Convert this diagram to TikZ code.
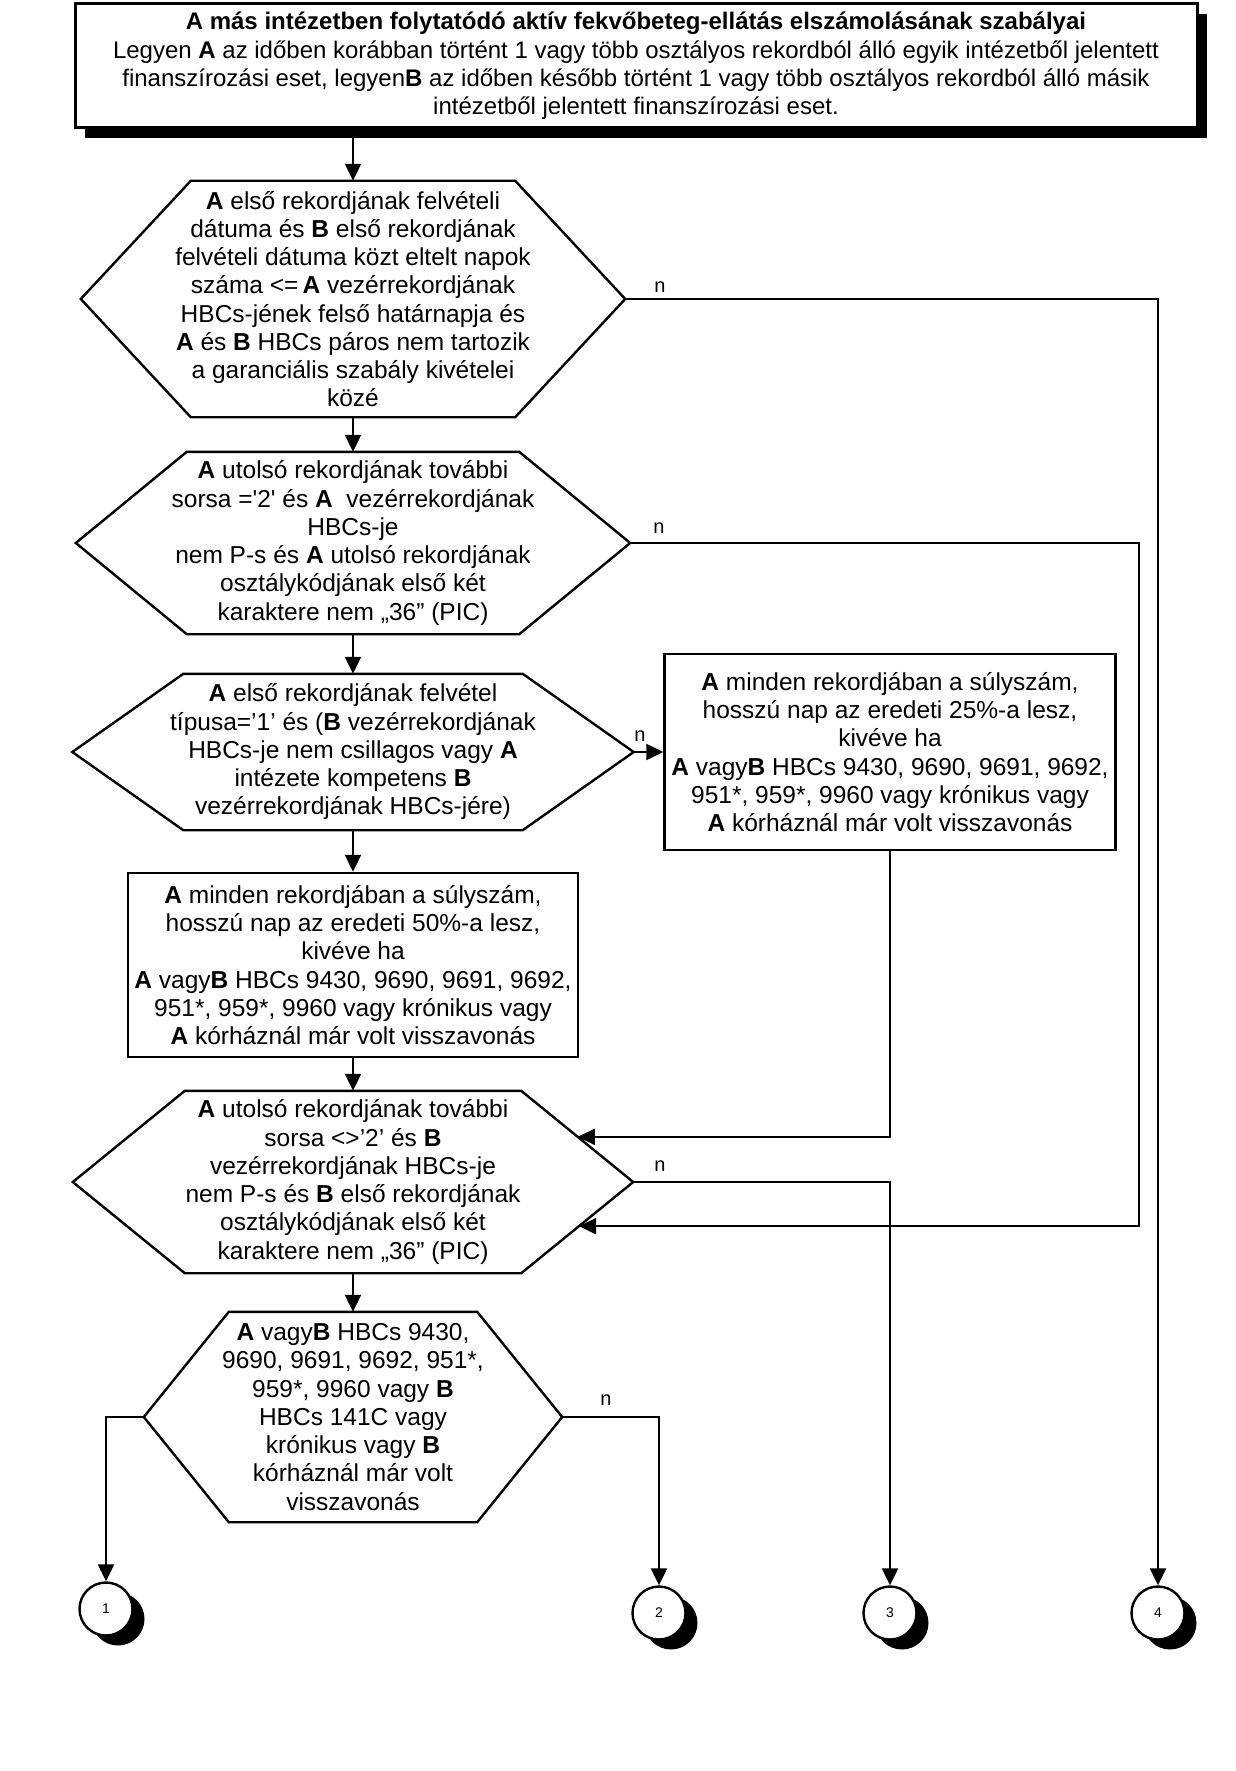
\documentclass[tikz,border=0pt]{standalone}
\usepackage{fontspec}
\setmainfont{Liberation Sans}
\usetikzlibrary{arrows.meta,calc,shadows}
\newcommand\hexdraw[2]{\draw[shapeline] (#1.west) -- ([xshift=#2pt]#1.north west) -- ([xshift=-#2pt]#1.north east) -- (#1.east) -- ([xshift=-#2pt]#1.south east) -- ([xshift=#2pt]#1.south west) -- cycle;}
\begin{document}
\begin{tikzpicture}[x=1pt,y=-1pt,
  txt/.style={font=\fontsize{24.5}{28.25}\selectfont, align=center, inner sep=0pt},
  shapeline/.style={line width=2.4pt, line join=miter},
  boxnode/.style={txt, draw, line width=2.4pt, fill=white},
  conn/.style={line width=2.2pt},
  arr/.style={conn, -{Triangle[length=17pt,width=16pt]}},
  lbl/.style={font=\fontsize{20}{24}\selectfont, inner sep=0pt},
  circ/.style={circle, draw, line width=2.4pt, fill=white, minimum size=53pt, inner sep=0pt,
    font=\fontsize{14}{16}\selectfont,
    drop shadow={opacity=1, fill=black, shadow xshift=12pt, shadow yshift=-10pt}}
]
\fill[white] (0,0) rectangle (1235,1771);
\useasboundingbox (0,0) rectangle (1235,1771);

% title
\node[boxnode, font=\fontsize{24}{28.25}\selectfont, line width=3pt, minimum width=1122pt, minimum height=124pt,
  drop shadow={opacity=1, fill=black, shadow xshift=10pt, shadow yshift=-10pt}] (title) at (636,66)
{\textbf{A más intézetben folytatódó aktív fekvőbeteg-ellátás elszámolásának szabályai}\\
Legyen \textbf{A} az időben korábban történt 1 vagy több osztályos rekordból álló egyik intézetből jelentett\\
finanszírozási eset, legyen\textbf{B} az időben később történt 1 vagy több osztályos rekordból álló másik\\
intézetből jelentett finanszírozási eset.};

% hexagon 1
\node[txt, minimum width=544pt, minimum height=236pt] (h1) at (353,299)
{\textbf{A} első rekordjának felvételi\\
dátuma és \textbf{B} első rekordjának\\
felvételi dátuma közt eltelt napok\\
száma <=\,\textbf{A} vezérrekordjának\\
HBCs-jének felső határnapja és\\
\textbf{A} és \textbf{B} HBCs páros nem tartozik\\
a garanciális szabály kivételei\\
közé};
\hexdraw{h1}{110}

% hexagon 2
\node[txt, minimum width=554pt, minimum height=182pt] (h2) at (353,543)
{\textbf{A} utolsó rekordjának további\\
sorsa =\textquotesingle 2\textquotesingle{} és \textbf{A}\ \ vezérrekordjának\\
HBCs-je\\
nem P-s és \textbf{A} utolsó rekordjának\\
osztálykódjának első két\\
karaktere nem „36” (PIC)};
\hexdraw{h2}{111}

% hexagon 3
\node[txt, minimum width=561pt, minimum height=156pt] (h3) at (353,752)
{\textbf{A} első rekordjának felvétel\\
típusa=’1’ és (\textbf{B} vezérrekordjának\\
HBCs-je nem csillagos vagy \textbf{A}\\
intézete kompetens \textbf{B}\\
vezérrekordjának HBCs-jére)};
\hexdraw{h3}{111}

% box 25%
\node[boxnode, minimum width=451pt, minimum height=196pt] (b25) at (890,752)
{\textbf{A} minden rekordjában a súlyszám,\\
hosszú nap az eredeti 25\%-a lesz,\\
kivéve ha\\
\textbf{A} vagy\textbf{B} HBCs 9430, 9690, 9691, 9692,\\
951*, 959*, 9960 vagy krónikus vagy\\
\textbf{A} kórháznál már volt visszavonás};

% box 50%
\node[boxnode, minimum width=450pt, minimum height=184pt] (b50) at (353,965)
{\textbf{A} minden rekordjában a súlyszám,\\
hosszú nap az eredeti 50\%-a lesz,\\
kivéve ha\\
\textbf{A} vagy\textbf{B} HBCs 9430, 9690, 9691, 9692,\\
951*, 959*, 9960 vagy krónikus vagy\\
\textbf{A} kórháznál már volt visszavonás};

% hexagon 4
\node[txt, minimum width=560pt, minimum height=182pt] (h4) at (353,1182)
{\textbf{A} utolsó rekordjának további\\
sorsa <>’2’ és \textbf{B}\\
vezérrekordjának HBCs-je\\
nem P-s és \textbf{B} első rekordjának\\
osztálykódjának első két\\
karaktere nem „36” (PIC)};
\hexdraw{h4}{112}

% hexagon 5
\node[txt, minimum width=418pt, minimum height=210pt] (h5) at (353,1417)
{\textbf{A} vagy\textbf{B} HBCs 9430,\\
9690, 9691, 9692, 951*,\\
959*, 9960 vagy \textbf{B}\\
HBCs 141C vagy\\
krónikus vagy \textbf{B}\\
kórháznál már volt\\
visszavonás};
\hexdraw{h5}{85}

% connectors (off-page)
\node[circ] (c1) at (106,1609) {1};
\node[circ] (c2) at (659,1613) {2};
\node[circ] (c3) at (890,1613) {3};
\node[circ] (c4) at (1158,1613) {4};

% entry points on hexagon 4
\coordinate (p1) at ($(h4.east)!0.495!([xshift=-112pt]h4.north east)$);
\coordinate (p2) at ($(h4.east)!0.484!([xshift=-112pt]h4.south east)$);
\coordinate (r2) at (1139,543);

% connectors
\draw[arr] (title.south -| h1.north) -- (h1.north);
\draw[arr] (h1.south) -- (h2.north);
\draw[arr] (h2.south) -- (h3.north);
\draw[arr] (h3.south) -- (b50.north);
\draw[arr] (b50.south) -- (h4.north);
\draw[arr] (h4.south) -- (h5.north);
\draw[arr] (h1.east) -| (c4.north);
\draw[arr] (h2.east) -- (r2) |- (p2);
\draw[arr] (h3.east) -- (b25.west);
\draw[arr] (b25.south) |- (p1);
\draw[arr] (h4.east) -| (c3.north);
\draw[arr] (h5.east) -| (c2.north);
\draw[arr] (h5.west) -| (c1.north);

% labels
\node[lbl] (n1) at (660,287) {n};
\node[lbl] (n2) at (659,528) {n};
\node[lbl] (n3) at (640,736) {n};
\node[lbl] (n4) at (660,1166) {n};
\node[lbl] (n5) at (606,1400) {n};
\end{tikzpicture}
\end{document}
